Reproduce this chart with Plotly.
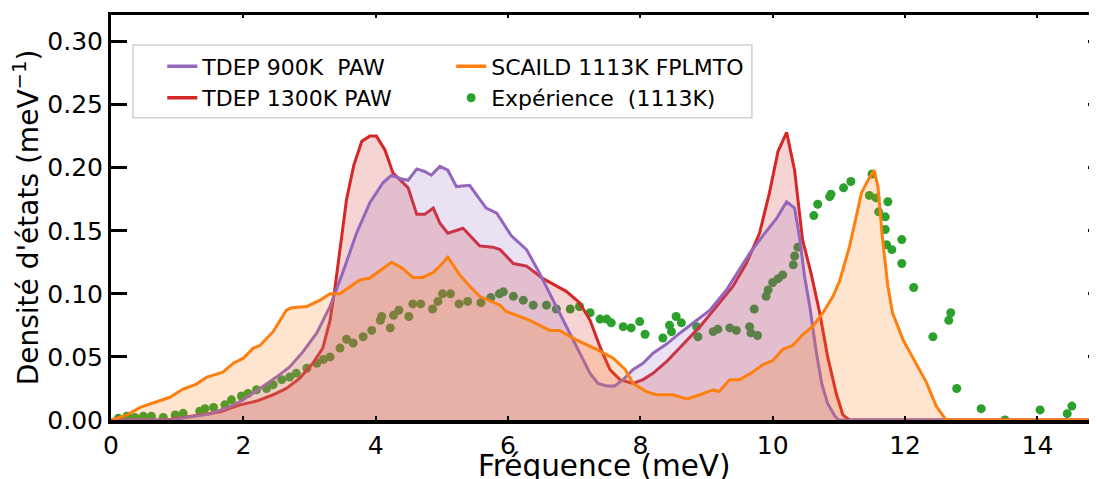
import plotly.graph_objects as go

# TDEP 900K PAW
freq_900 = [0.0, 0.89, 1.50, 1.75, 2.00, 2.25, 2.50, 2.70, 2.90, 3.11, 3.31, 3.51, 3.71, 3.91, 4.11, 4.24,
            4.39, 4.49, 4.62, 4.74, 4.84, 4.97, 5.09, 5.22, 5.42, 5.57, 5.67, 5.83, 6.05, 6.28, 6.48, 6.68,
            6.88, 7.08, 7.24, 7.36, 7.49, 7.61, 7.74, 7.89, 8.04, 8.19, 8.39, 8.60, 8.85, 9.05, 9.30, 9.50,
            9.65, 9.85, 10.06, 10.21, 10.33, 10.41, 10.48, 10.56, 10.66, 10.74, 10.83, 10.94, 11.0, 14.9]
dos_900 = [0.0, 0.0, 0.005, 0.0095, 0.016, 0.025, 0.034, 0.042, 0.054, 0.069, 0.090, 0.118, 0.148, 0.172, 0.188, 0.194,
           0.191, 0.190, 0.199, 0.197, 0.194, 0.201, 0.198, 0.185, 0.186, 0.175, 0.168, 0.164, 0.146, 0.135, 0.116, 0.095,
           0.074, 0.053, 0.037, 0.029, 0.027, 0.027, 0.032, 0.040, 0.045, 0.053, 0.060, 0.069, 0.079, 0.087, 0.103, 0.119,
           0.132, 0.146, 0.160, 0.173, 0.168, 0.143, 0.114, 0.090, 0.053, 0.029, 0.013, 0.003, 0.0, 0.0]

# TDEP 1300K PAW
freq_1300 = [0.0, 0.84, 1.34, 1.65, 1.95, 2.20, 2.45, 2.65, 2.85, 3.05, 3.20, 3.31, 3.38, 3.46, 3.56, 3.67,
             3.79, 3.91, 4.01, 4.14, 4.26, 4.49, 4.62, 4.74, 4.87, 4.97, 5.09, 5.32, 5.57, 5.77, 5.88, 6.08,
             6.28, 6.53, 6.73, 6.88, 7.08, 7.24, 7.39, 7.54, 7.69, 7.89, 8.04, 8.19, 8.39, 8.64, 8.90, 9.15,
             9.40, 9.60, 9.80, 9.95, 10.08, 10.21, 10.33, 10.45, 10.58, 10.71, 10.83, 10.96, 11.06, 11.16, 14.9]
dos_1300 = [0.0, 0.0, 0.004, 0.0066, 0.012, 0.015, 0.020, 0.025, 0.033, 0.045, 0.057, 0.079, 0.103, 0.135, 0.175, 0.202,
            0.221, 0.225, 0.225, 0.214, 0.196, 0.184, 0.163, 0.163, 0.168, 0.156, 0.148, 0.152, 0.138, 0.137, 0.135, 0.124,
            0.122, 0.112, 0.106, 0.102, 0.093, 0.079, 0.058, 0.040, 0.032, 0.029, 0.032, 0.037, 0.046, 0.060, 0.074, 0.090,
            0.106, 0.124, 0.148, 0.180, 0.213, 0.228, 0.198, 0.143, 0.116, 0.085, 0.050, 0.021, 0.004, 0.0, 0.0]

# SCAILD 1113K FPLMTO
freq_scaild = [0.0, 0.24, 0.44, 0.69, 0.89, 1.09, 1.29, 1.45, 1.69, 1.85, 2.00, 2.15, 2.25, 2.45, 2.65, 2.73,
               2.96, 3.16, 3.31, 3.46, 3.66, 3.76, 3.91, 4.11, 4.24, 4.41, 4.56, 4.71, 4.87, 4.97, 5.09, 5.27,
               5.42, 5.57, 5.88, 5.97, 6.33, 6.63, 6.78, 7.03, 7.34, 7.59, 7.77, 7.89, 8.09, 8.24, 8.49, 8.70,
               8.90, 9.10, 9.19, 9.35, 9.50, 9.70, 9.85, 10.0, 10.15, 10.30, 10.45, 10.60, 10.76, 10.91, 11.01, 11.16,
               11.26, 11.34, 11.44, 11.53, 11.59, 11.66, 11.74, 11.81, 11.97, 12.17, 12.32, 12.47, 12.62, 14.9]
dos_scaild = [0.0, 0.004, 0.010, 0.0145, 0.018, 0.0245, 0.0285, 0.034, 0.038, 0.045, 0.049, 0.057, 0.059, 0.070, 0.087, 0.089,
              0.090, 0.095, 0.100, 0.100, 0.107, 0.111, 0.1125, 0.1205, 0.125, 0.120, 0.113, 0.113, 0.117, 0.122, 0.129, 0.115,
              0.106, 0.098, 0.091, 0.086, 0.079, 0.071, 0.071, 0.0635, 0.056, 0.049, 0.040, 0.029, 0.0225, 0.020, 0.020, 0.0167,
              0.020, 0.024, 0.0225, 0.032, 0.032, 0.038, 0.044, 0.047, 0.056, 0.059, 0.0675, 0.074, 0.085, 0.098, 0.110, 0.1375,
              0.161, 0.180, 0.190, 0.198, 0.185, 0.143, 0.106, 0.085, 0.0635, 0.045, 0.030, 0.011, 0.0, 0.0]

# Expérience (1113K)
freq_exp = [0.11, 0.24, 0.36, 0.49, 0.61, 0.79, 0.97, 1.09, 1.34, 1.42, 1.55, 1.72, 1.82, 1.97, 2.07, 2.20,
            2.35, 2.45, 2.58, 2.70, 2.80, 2.96, 3.11, 3.21, 3.31, 3.46, 3.56, 3.66, 3.81, 3.94, 4.07, 4.09,
            4.22, 4.27, 4.35, 4.50, 4.56, 4.68, 4.86, 4.94, 5.01, 5.13, 5.26, 5.39, 5.59, 5.74, 5.87, 5.93,
            6.08, 6.23, 6.38, 6.58, 6.73, 6.94, 7.08, 7.24, 7.39, 7.49, 7.56, 7.74, 7.86, 7.99, 8.07, 8.34,
            8.44, 8.47, 8.54, 8.62, 8.85, 8.87, 9.10, 9.17, 9.35, 9.45, 9.65, 9.67, 9.72, 9.77, 9.90, 9.93,
            10.0, 10.08, 10.15, 10.31, 10.33, 10.38, 10.62, 10.68, 10.86, 10.88, 11.07, 11.18, 11.46, 11.50, 11.56, 11.60,
            11.74, 11.70, 11.70, 11.72, 11.80, 11.95, 11.95, 12.13, 12.42, 12.66, 12.69, 12.78, 13.15, 13.51, 14.04, 14.45,
            14.52, 14.87]
dos_exp = [0.0013, 0.003, 0.002, 0.003, 0.003, 0.002, 0.004, 0.0053, 0.007, 0.009, 0.010, 0.012, 0.016, 0.019, 0.021, 0.024,
           0.025, 0.028, 0.032, 0.034, 0.037, 0.041, 0.045, 0.048, 0.050, 0.057, 0.064, 0.061, 0.066, 0.071, 0.079, 0.082,
           0.073, 0.083, 0.087, 0.082, 0.092, 0.092, 0.088, 0.094, 0.100, 0.100, 0.092, 0.094, 0.093, 0.097, 0.100, 0.1016,
           0.098, 0.095, 0.091, 0.091, 0.088, 0.088, 0.090, 0.085, 0.080, 0.080, 0.077, 0.074, 0.073, 0.078, 0.068, 0.065,
           0.075, 0.070, 0.082, 0.077, 0.074, 0.066, 0.070, 0.072, 0.073, 0.071, 0.074, 0.069, 0.088, 0.067, 0.098, 0.103,
           0.109, 0.112, 0.115, 0.123, 0.130, 0.137, 0.162, 0.171, 0.177, 0.179, 0.184, 0.189, 0.178, 0.195, 0.176, 0.165,
           0.173, 0.161, 0.151, 0.139, 0.135, 0.143, 0.124, 0.105, 0.066, 0.079, 0.085, 0.025, 0.009, 0.0, 0.008, 0.005,
           0.011, 0.001]

x_ticks = [0, 2, 4, 6, 8, 10, 12, 14]
y_ticks = [0, 0.05, 0.10, 0.15, 0.20, 0.25, 0.30]
x_range = [0, 14.9]
y_range = [0, 0.321]

FONT = "DejaVu Sans"
PURPLE, RED, ORANGE, GREEN = "#9467bd", "#d62728", "#ff7f0e", "#2ca02c"
fig = go.Figure()

# points d'abord, les remplissages passent par-dessus
fig.add_trace(go.Scatter(x=freq_exp, y=dos_exp, mode="markers",
                         marker=dict(color=GREEN, size=9), showlegend=False))
fig.add_trace(go.Scatter(x=freq_1300, y=dos_1300, mode="lines", line=dict(color=RED, width=3),
                         fill="tozeroy", fillcolor="rgba(214,39,40,0.2)", showlegend=False))
fig.add_trace(go.Scatter(x=freq_900, y=dos_900, mode="lines", line=dict(color=PURPLE, width=3),
                         fill="tozeroy", fillcolor="rgba(148,103,189,0.2)", showlegend=False))
fig.add_trace(go.Scatter(x=freq_scaild, y=dos_scaild, mode="lines", line=dict(color=ORANGE, width=3),
                         fill="tozeroy", fillcolor="rgba(255,127,14,0.2)", showlegend=False))

# entrées de légende (lignes seules, sans remplissage)
fig.add_trace(go.Scatter(x=[None], y=[None], mode="lines", name="TDEP 900K\u00a0\u00a0PAW",
                         line=dict(color=PURPLE, width=3.5), legend="legend"))
fig.add_trace(go.Scatter(x=[None], y=[None], mode="lines", name="TDEP 1300K PAW",
                         line=dict(color=RED, width=3.5), legend="legend"))
fig.add_trace(go.Scatter(x=[None], y=[None], mode="lines", name="SCAILD 1113K FPLMTO",
                         line=dict(color=ORANGE, width=3.5), legend="legend2"))
fig.add_trace(go.Scatter(x=[None], y=[None], mode="markers", name="Expérience\u00a0\u00a0(1113K)",
                         marker=dict(color=GREEN, size=9), legend="legend2"))

# trace vide pour faire apparaitre les axes du haut et de droite
fig.add_trace(go.Scatter(x=[None], y=[None], xaxis="x2", yaxis="y2", showlegend=False, hoverinfo="skip"))

leg = dict(font=dict(family=FONT, size=22, color="black"), bgcolor="rgba(0,0,0,0)",
           borderwidth=0, yanchor="top", xanchor="left", tracegroupgap=0, traceorder="normal")
# la page html ajoute 8px de marge autour de la figure
fig.update_layout(
    width=1089, height=471,
    margin=dict(l=103, r=0, t=7, b=59),
    plot_bgcolor="white", paper_bgcolor="white",
    font=dict(family=FONT, size=25, color="black"),
    legend=dict(leg, x=0.052, y=0.925),
    legend2=dict(leg, x=0.345, y=0.925),
    xaxis=dict(
        range=x_range, tickvals=x_ticks, ticks="inside", ticklen=4, automargin=False,
        tickwidth=2, tickcolor="black", showline=True, linewidth=4, linecolor="black",
        showgrid=False, zeroline=False, tickfont=dict(size=25),
    ),
    yaxis=dict(
        range=y_range, tickvals=y_ticks, tickformat=".2f", automargin=False,
        ticks="inside", ticklen=16, tickwidth=3, tickcolor="black", showline=True, linewidth=3,
        linecolor="black", showgrid=False, zeroline=False, tickfont=dict(size=25),
        title=dict(text="Densité d'états (meV<sup>−1</sup>)", font=dict(size=28), standoff=3),
    ),
    xaxis2=dict(
        overlaying="x", side="top", range=x_range, tickvals=x_ticks, automargin=False,
        ticks="inside", ticklen=3, tickwidth=2, tickcolor="black", showticklabels=False,
        showline=True, linewidth=3, linecolor="black", showgrid=False, zeroline=False,
    ),
    yaxis2=dict(
        overlaying="y", side="right", range=y_range, tickvals=y_ticks, automargin=False,
        ticks="inside", ticklen=9, tickwidth=3, tickcolor="black", showticklabels=False,
        showline=False, showgrid=False, zeroline=False,
    ),
)

# titre de l'axe x, placé sous les étiquettes (coupé en bas comme l'original)
fig.add_annotation(text="Fréquence (meV)", xref="paper", yref="paper", x=0.5, y=-0.067,
                   xanchor="center", yanchor="top", showarrow=False,
                   font=dict(family=FONT, size=29.5, color="black"))

# cadre de la légende
fig.add_shape(type="rect", xref="paper", yref="paper", x0=0.0223, x1=0.650, y0=0.746, y1=0.926,
              line=dict(color="#d0d0d0", width=1.5), fillcolor="rgba(255,255,255,0.8)", layer="below")

fig.write_html("out.html")
